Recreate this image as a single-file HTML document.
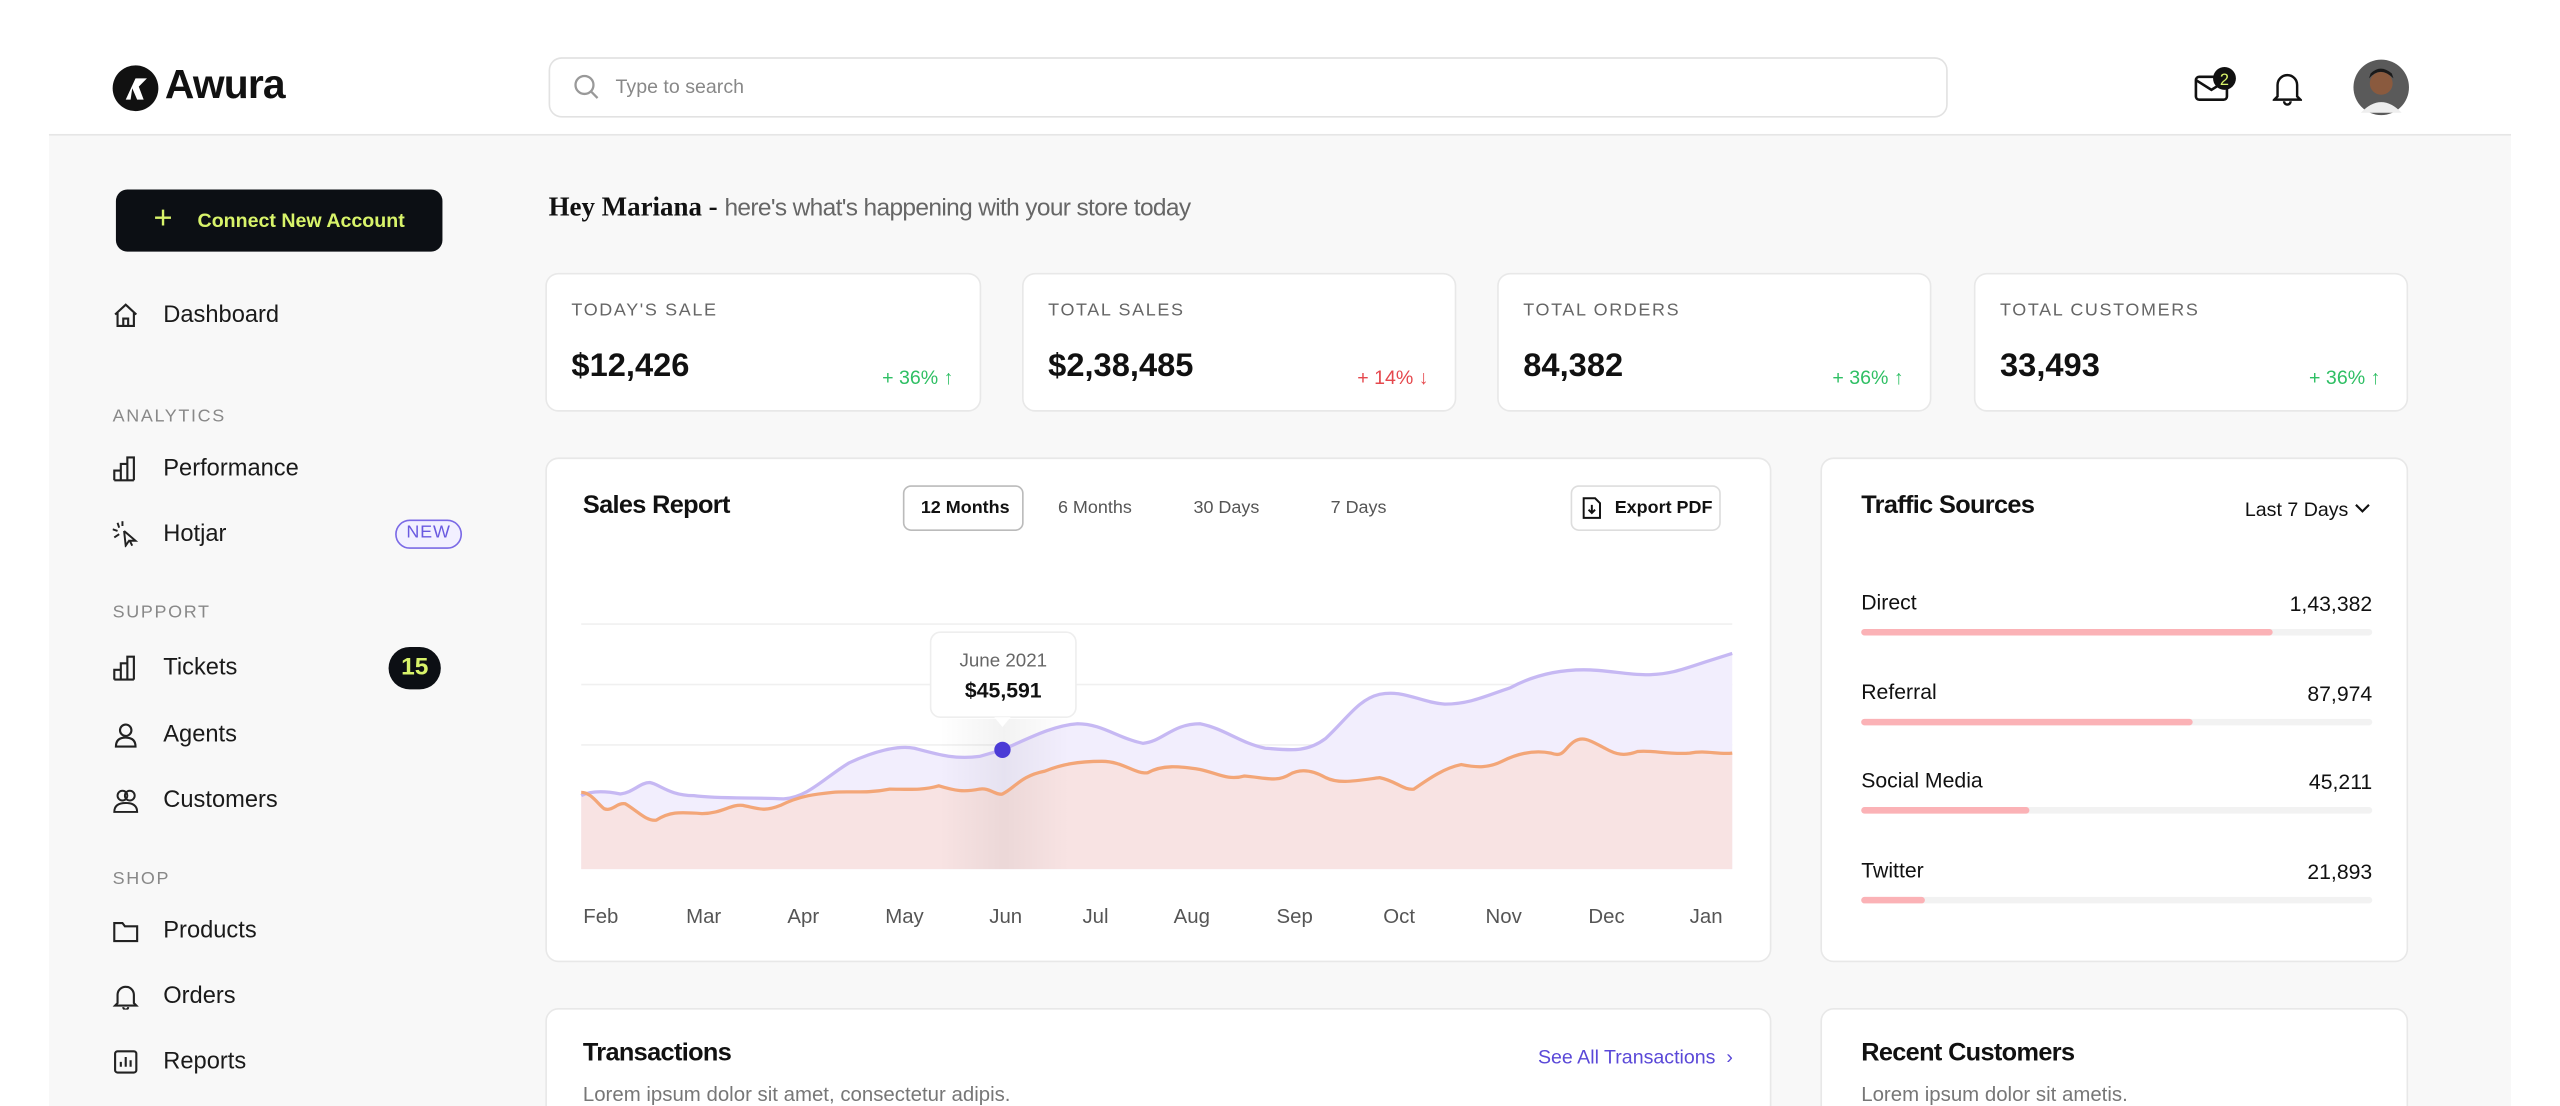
<!DOCTYPE html>
<html><head><meta charset="utf-8"><style>
*{margin:0;padding:0;box-sizing:border-box}
html,body{width:2560px;height:1106px;overflow:hidden;background:#fff;font-family:"Liberation Sans",sans-serif;color:#111}
#w{position:absolute;left:0;top:0;width:1568px;height:677px;transform:scale(1.63265,1.6337);transform-origin:0 0;overflow:hidden}
.a{position:absolute}
.card{position:absolute;background:#fff;border:1px solid #e8e8e8;border-radius:8px}
.lbl{font-size:11px;letter-spacing:1px;color:#666}
.val{font-size:20px;font-weight:bold;color:#111}
.g{color:#2fbf64;font-size:12px}
.r{color:#e5484d;font-size:12px}
.nav{position:absolute;left:100px;font-size:14.5px;color:#1a1a1a}
.sec{position:absolute;left:69px;font-size:11px;letter-spacing:1px;color:#888}
.ic{position:absolute;left:69px;width:16px;height:16px}
.ml{position:absolute;font-size:11px;color:#333}
</style></head><body><div id="w">
<div class="a" style="left:30px;top:82px;width:1508px;height:595px;background:#f8f8f8;border-top:1px solid #e6e6e6"></div>
<svg class="a" style="left:68px;top:39px" width="30" height="30" viewBox="0 0 30 30"><circle cx="15" cy="15" r="14" fill="#111"/><path d="M9 22 L15 9 L22 9 L17 14 L20 22 L16 22 L13 15 L12 22Z" fill="#fff"/></svg>
<div class="a" style="left:101px;top:38px;font-size:25px;font-weight:bold;letter-spacing:-0.5px">Awura</div>
<div class="a" style="left:336px;top:35px;width:857px;height:37px;border:1px solid #e2e2e2;border-radius:8px;background:#fff"></div>
<svg class="a" style="left:351px;top:45px" width="16" height="16"><circle cx="7" cy="7" r="5.5" fill="none" stroke="#999" stroke-width="1.4"/><line x1="11" y1="11" x2="15" y2="15" stroke="#999" stroke-width="1.4"/></svg>
<div class="a" style="left:377px;top:46px;font-size:12px;color:#888">Type to search</div>
<svg class="a" style="left:1343px;top:40px" width="30" height="26"><rect x="2" y="7" width="19" height="14" rx="2" fill="none" stroke="#111" stroke-width="1.6"/><path d="M2 9 L11.5 15 L21 9" fill="none" stroke="#111" stroke-width="1.6"/><circle cx="19.5" cy="8" r="7" fill="#111"/><text x="19.5" y="12" font-size="10" fill="#d8f36a" text-anchor="middle" font-family="Liberation Sans">2</text></svg>
<svg class="a" style="left:1392px;top:43px" width="18" height="22"><path d="M3 16 L3 9 A6 6 0 0 1 15 9 L15 16 L17 18 L1 18 Z" fill="none" stroke="#111" stroke-width="1.5"/><path d="M7 19 A2 2 0 0 0 11 19" fill="none" stroke="#111" stroke-width="1.5"/></svg>
<svg class="a" style="left:1441px;top:36px" width="35" height="35"><circle cx="17.5" cy="17.5" r="17" fill="#5a5a5a"/><circle cx="17.5" cy="15" r="7" fill="#8a5a3e"/><path d="M10 12 Q17 4 25 12 L24 9 Q17 3 11 9Z" fill="#1a1a1a"/><path d="M5 33 Q17.5 20 30 33Z" fill="#eee"/></svg>
<div class="a" style="left:71px;top:116px;width:200px;height:38px;background:#0c0f14;border-radius:7px"></div>
<div class="a" style="left:94px;top:123px;font-size:20px;color:#d8f36a">+</div>
<div class="a" style="left:121px;top:128px;font-size:12px;font-weight:bold;color:#d8f36a">Connect New Account</div>
<svg class="ic" style="top:185px" viewBox="0 0 16 16"><path d="M1.5 7.5 L8 1.5 L14.5 7.5 M3 6.5 V14.5 H13 V6.5 M6.5 14.5 V10 H9.5 V14.5" fill="none" stroke="#222" stroke-width="1.3"/></svg>
<div class="nav" style="top:185px">Dashboard</div>
<div class="sec" style="top:249px">ANALYTICS</div>
<svg class="ic" style="top:279px" viewBox="0 0 16 16"><path d="M1 15 V9 H5 V15 M5 15 V5 H9 V15 M9 15 V1 H13 V15 M1 15 H13" fill="none" stroke="#222" stroke-width="1.3"/></svg>
<div class="nav" style="top:279px">Performance</div>
<svg class="ic" style="top:319px" viewBox="0 0 16 16"><path d="M7 6 L14 12 L10.5 12 L12 15 M7 6 L8 15 L10 12 M3 1 L4 4 M0 5 L3 6 M1 10 L4 8 M6 0 L6 3" fill="none" stroke="#222" stroke-width="1.2"/></svg>
<div class="nav" style="top:319px">Hotjar</div>
<div class="a" style="left:242px;top:318px;width:41px;height:18px;border:1.3px solid #7b6ae6;border-radius:9px;background:#f2f0ff;font-size:11px;color:#6a5ae0;text-align:center;line-height:15px;letter-spacing:.5px">NEW</div>
<div class="sec" style="top:369px">SUPPORT</div>
<svg class="ic" style="top:401px" viewBox="0 0 16 16"><path d="M1 15 V9 H5 V15 M5 15 V5 H9 V15 M9 15 V1 H13 V15 M1 15 H13" fill="none" stroke="#222" stroke-width="1.3"/></svg>
<div class="nav" style="top:401px">Tickets</div>
<div class="a" style="left:238px;top:396px;width:32px;height:26px;border-radius:13px;background:#0c0f14;color:#d8f36a;font-size:15px;font-weight:bold;text-align:center;line-height:26px">15</div>
<svg class="ic" style="top:442px" viewBox="0 0 16 16"><circle cx="8" cy="5" r="3.5" fill="none" stroke="#222" stroke-width="1.3"/><path d="M2 15 Q2 9.5 8 9.5 Q14 9.5 14 15 Z" fill="none" stroke="#222" stroke-width="1.3"/></svg>
<div class="nav" style="top:442px">Agents</div>
<svg class="ic" style="top:482px" viewBox="0 0 16 16"><circle cx="6" cy="5" r="3" fill="none" stroke="#222" stroke-width="1.2"/><circle cx="10.5" cy="5" r="3" fill="none" stroke="#222" stroke-width="1.2"/><path d="M1 15 Q1 9.5 8 9.5 Q15 9.5 15 15 Z" fill="none" stroke="#222" stroke-width="1.2"/></svg>
<div class="nav" style="top:482px">Customers</div>
<div class="sec" style="top:532px">SHOP</div>
<svg class="ic" style="top:562px" viewBox="0 0 16 16"><path d="M1 3 H6 L7.5 5 H15 V14 H1 Z" fill="none" stroke="#222" stroke-width="1.3"/></svg>
<div class="nav" style="top:562px">Products</div>
<svg class="ic" style="top:602px" viewBox="0 0 16 16"><path d="M3 12 V7 A5 5 0 0 1 13 7 V12 L14.5 13.5 H1.5 Z M6.5 14.5 A1.5 1.5 0 0 0 9.5 14.5" fill="none" stroke="#222" stroke-width="1.3"/></svg>
<div class="nav" style="top:602px">Orders</div>
<svg class="ic" style="top:642px" viewBox="0 0 16 16"><rect x="1.5" y="1.5" width="13" height="13" rx="1.5" fill="none" stroke="#222" stroke-width="1.3"/><path d="M5 11 V8 M8 11 V5 M11 11 V7" stroke="#222" stroke-width="1.3"/></svg>
<div class="nav" style="top:642px">Reports</div>
<div class="a" style="left:336px;top:117px;font-size:15px"><span style="font-family:'Liberation Serif',serif;font-weight:bold;font-size:16.5px">Hey Mariana -</span> <span style="color:#666;font-size:15px;letter-spacing:-.4px">here's what's happening with your store today</span></div>
<div class="card" style="left:334px;top:167px;width:267px;height:85px"><div class="lbl a" style="left:15px;top:16px">TODAY'S SALE</div><div class="val a" style="left:15px;top:45px">$12,426</div><div class="g a" style="right:16px;top:56px">+ 36% ↑</div></div>
<div class="card" style="left:626px;top:167px;width:266px;height:85px"><div class="lbl a" style="left:15px;top:16px">TOTAL SALES</div><div class="val a" style="left:15px;top:45px">$2,38,485</div><div class="r a" style="right:16px;top:56px">+ 14% ↓</div></div>
<div class="card" style="left:917px;top:167px;width:266px;height:85px"><div class="lbl a" style="left:15px;top:16px">TOTAL ORDERS</div><div class="val a" style="left:15px;top:45px">84,382</div><div class="g a" style="right:16px;top:56px">+ 36% ↑</div></div>
<div class="card" style="left:1209px;top:167px;width:266px;height:85px"><div class="lbl a" style="left:15px;top:16px">TOTAL CUSTOMERS</div><div class="val a" style="left:15px;top:45px">33,493</div><div class="g a" style="right:16px;top:56px">+ 36% ↑</div></div>
<div class="card" style="left:334px;top:280px;width:751px;height:309px"></div>
<div class="a" style="left:357px;top:301px;font-size:15.5px;font-weight:bold;letter-spacing:-.4px">Sales Report</div>
<div class="a" style="left:553px;top:297px;width:74px;height:28px;border:1px solid #bbb;border-radius:5px;background:#fff"></div>
<div class="ml" style="left:564px;top:305px;color:#111;font-weight:bold">12 Months</div>
<div class="ml" style="left:648px;top:305px;color:#555">6 Months</div>
<div class="ml" style="left:731px;top:305px;color:#555">30 Days</div>
<div class="ml" style="left:815px;top:305px;color:#555">7 Days</div>
<div class="a" style="left:962px;top:297px;width:92px;height:28px;border:1px solid #ddd;border-radius:5px;background:#fff"></div>
<svg class="a" style="left:969px;top:304px" width="12" height="14"><path d="M1 1 H8 L11 4 V13 H1 Z" fill="none" stroke="#111" stroke-width="1.2"/><path d="M6 5 V10 M4 8 L6 10 L8 8" fill="none" stroke="#111" stroke-width="1.2"/></svg>
<div class="ml" style="left:989px;top:305px;color:#111;font-weight:bold">Export PDF</div>
<svg class="a" style="left:0;top:0" width="1568" height="677">
<defs><linearGradient id="sh" x1="0" x2="1"><stop offset="0" stop-color="#000" stop-opacity="0"/><stop offset=".5" stop-color="#000" stop-opacity=".05"/><stop offset="1" stop-color="#000" stop-opacity="0"/></linearGradient></defs>
<g stroke="#f0f0f0" stroke-width="1"><line x1="356" y1="382" x2="1061" y2="382"/><line x1="356" y1="419" x2="1061" y2="419"/><line x1="356" y1="456" x2="1061" y2="456"/></g>
<path id="pp" fill="#f2eefd" d="M356,532 L356,487 C362,484 370,484 380,486 C388,485 392,479 398,479 C404,480 410,487 425,487 C440,489 460,488 480,489 C495,488 505,476 520,467 C535,460 550,456 560,458 C575,462 585,465 600,463 L614,459 C630,452 645,444 660,443 C675,443 685,452 700,455 C712,454 718,443 735,443 C750,446 760,455 775,458 C790,459 800,461 812,452 C825,440 832,428 845,425 C860,422 870,430 885,431 C900,431 910,426 925,421 C940,413 955,410 970,410 C985,410 995,413 1008,413 C1022,413 1030,410 1045,405 L1061,400 L1061,532Z"/>
<path fill="#f8e3e3" d="M356,532 L356,485 C362,485 366,492 370,495 C375,497 378,491 383,492 C390,496 396,503 402,502 C410,497 415,497 430,498 C442,498 448,492 455,493 C465,495 468,497 478,493 C490,487 500,486 510,485 C520,484 530,486 545,483 C555,483 565,484 575,481 C585,484 590,485 600,483 C606,482 610,487 614,486 C622,482 625,475 640,472 C650,468 660,466 675,466 C688,466 695,474 703,473 C712,468 722,469 735,471 C745,473 752,478 762,475 C775,476 782,479 790,474 C797,470 805,472 812,476 C820,480 830,478 845,476 C855,478 860,484 866,483 C876,476 885,470 895,468 C905,470 912,470 920,466 C930,461 940,459 950,461 C958,464 958,458 964,454 C970,450 975,454 983,458 C990,462 995,463 1003,460 C1012,459 1022,462 1035,461 C1045,459 1052,462 1061,461 L1061,532Z"/>
<rect x="575" y="440" width="80" height="92" fill="url(#sh)"/>
<path fill="none" stroke="#c6b8f3" stroke-width="2" d="M356,487 C362,484 370,484 380,486 C388,485 392,479 398,479 C404,480 410,487 425,487 C440,489 460,488 480,489 C495,488 505,476 520,467 C535,460 550,456 560,458 C575,462 585,465 600,463 L614,459 C630,452 645,444 660,443 C675,443 685,452 700,455 C712,454 718,443 735,443 C750,446 760,455 775,458 C790,459 800,461 812,452 C825,440 832,428 845,425 C860,422 870,430 885,431 C900,431 910,426 925,421 C940,413 955,410 970,410 C985,410 995,413 1008,413 C1022,413 1030,410 1045,405 L1061,400"/>
<path fill="none" stroke="#f3a678" stroke-width="2" d="M356,485 C362,485 366,492 370,495 C375,497 378,491 383,492 C390,496 396,503 402,502 C410,497 415,497 430,498 C442,498 448,492 455,493 C465,495 468,497 478,493 C490,487 500,486 510,485 C520,484 530,486 545,483 C555,483 565,484 575,481 C585,484 590,485 600,483 C606,482 610,487 614,486 C622,482 625,475 640,472 C650,468 660,466 675,466 C688,466 695,474 703,473 C712,468 722,469 735,471 C745,473 752,478 762,475 C775,476 782,479 790,474 C797,470 805,472 812,476 C820,480 830,478 845,476 C855,478 860,484 866,483 C876,476 885,470 895,468 C905,470 912,470 920,466 C930,461 940,459 950,461 C958,464 958,458 964,454 C970,450 975,454 983,458 C990,462 995,463 1003,460 C1012,459 1022,462 1035,461 C1045,459 1052,462 1061,461"/>
<rect x="570" y="387" width="89" height="52" rx="6" fill="#fff" stroke="#eee"/>
<path d="M609 439 L614 445 L619 439Z" fill="#fff"/>
<text x="614.5" y="408" font-size="11.5" fill="#666" text-anchor="middle" font-family="Liberation Sans">June 2021</text>
<text x="614.5" y="427" font-size="13" font-weight="bold" fill="#111" text-anchor="middle" font-family="Liberation Sans">$45,591</text>
<circle cx="614" cy="459" r="5" fill="#4b3bd6"/>
<g font-size="12.5" fill="#555" text-anchor="middle" font-family="Liberation Sans"><text x="368" y="565">Feb</text><text x="431" y="565">Mar</text><text x="492" y="565">Apr</text><text x="554" y="565">May</text><text x="616" y="565">Jun</text><text x="671" y="565">Jul</text><text x="730" y="565">Aug</text><text x="793" y="565">Sep</text><text x="857" y="565">Oct</text><text x="921" y="565">Nov</text><text x="984" y="565">Dec</text><text x="1045" y="565">Jan</text></g>
</svg>
<div class="card" style="left:1115px;top:280px;width:360px;height:309px"></div>
<div class="a" style="left:1140px;top:301px;font-size:15.5px;font-weight:bold;letter-spacing:-.4px">Traffic Sources</div>
<div class="a" style="left:1375px;top:305px;font-size:12px">Last 7 Days</div>
<svg class="a" style="left:1442px;top:307px" width="10" height="8"><path d="M1 2 L5 6 L9 2" fill="none" stroke="#111" stroke-width="1.3"/></svg>
<div class="a" style="left:1140px;top:361px;font-size:13px">Direct</div><div class="a" style="right:115px;top:362px;font-size:13px">1,43,382</div>
<div class="a" style="left:1140px;top:385px;width:313px;height:4px;border-radius:2px;background:#f2f2f2"><div style="width:252px;height:4px;border-radius:2px;background:#fbb2b6"></div></div>
<div class="a" style="left:1140px;top:416px;font-size:13px">Referral</div><div class="a" style="right:115px;top:417px;font-size:13px">87,974</div>
<div class="a" style="left:1140px;top:440px;width:313px;height:4px;border-radius:2px;background:#f2f2f2"><div style="width:203px;height:4px;border-radius:2px;background:#fbb2b6"></div></div>
<div class="a" style="left:1140px;top:470px;font-size:13px">Social Media</div><div class="a" style="right:115px;top:471px;font-size:13px">45,211</div>
<div class="a" style="left:1140px;top:494px;width:313px;height:4px;border-radius:2px;background:#f2f2f2"><div style="width:103px;height:4px;border-radius:2px;background:#fbb2b6"></div></div>
<div class="a" style="left:1140px;top:525px;font-size:13px">Twitter</div><div class="a" style="right:115px;top:526px;font-size:13px">21,893</div>
<div class="a" style="left:1140px;top:549px;width:313px;height:4px;border-radius:2px;background:#f2f2f2"><div style="width:39px;height:4px;border-radius:2px;background:#fbb2b6"></div></div>
<div class="card" style="left:334px;top:617px;width:751px;height:80px"></div>
<div class="a" style="left:357px;top:636px;font-size:15.5px;font-weight:bold;letter-spacing:-.4px">Transactions</div>
<div class="a" style="left:357px;top:663px;font-size:12.5px;color:#777">Lorem ipsum dolor sit amet, consectetur adipis.</div>
<div class="a" style="left:942px;top:640px;font-size:12px;color:#5a48d8">See All Transactions &nbsp;›</div>
<div class="card" style="left:1115px;top:617px;width:360px;height:80px"></div>
<div class="a" style="left:1140px;top:636px;font-size:15.5px;font-weight:bold;letter-spacing:-.4px">Recent Customers</div>
<div class="a" style="left:1140px;top:663px;font-size:12.5px;color:#777">Lorem ipsum dolor sit ametis.</div>
</div></body></html>
